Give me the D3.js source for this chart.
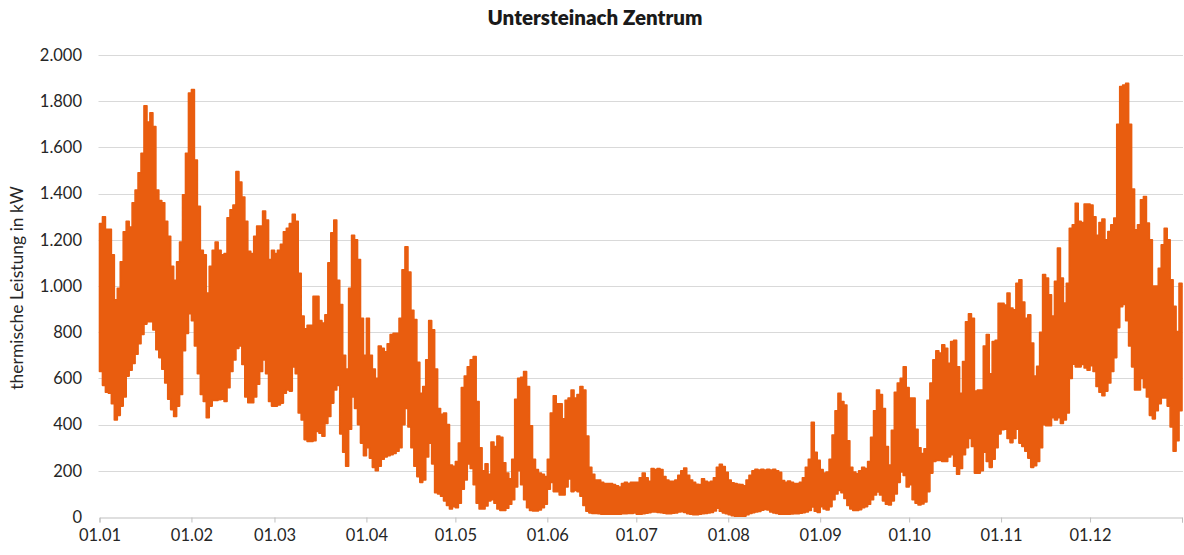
<!DOCTYPE html>
<html>
<head>
<meta charset="utf-8">
<script src="https://cdn.jsdelivr.net/npm/d3@7"></script>
<style>
  body { margin: 0; background: #ffffff; }
  svg { display: block; font-family: Lato, "Open Sans", sans-serif; }
</style>
</head>
<body>
<svg id="chart" width="1184" height="555"></svg>
<script>
// Hourly heat load, summarised as the daily minimum and maximum (kW) per calendar day.
const chartTitle = "Untersteinach Zentrum";
const yAxisTitle = "thermische Leistung in kW";
const monthLabels = ["01.01","01.02","01.03","01.04","01.05","01.06","01.07","01.08","01.09","01.10","01.11","01.12"];
const monthLengths = [31,28,31,30,31,30,31,31,30,31,30,31];
const yTickValues = [0,200,400,600,800,1000,1200,1400,1600,1800,2000];

const dailyMaxKW = [
  // Jan
  1270,1300,1245,1245,1135,940,990,1105,1235,1280,1255,1360,1415,1490,1575,1780,1710,1750,1690,1415,1370,1360,1280,1215,1085,1025,1105,1190,1395,1575,1835,
  // Feb
  1850,1545,1345,1155,1135,970,1085,1155,1190,1155,1135,1140,1295,1330,1350,1495,1450,1385,1280,1150,1140,1215,1260,1260,1325,1285,1115,1155,
  // Mar
  1140,1155,1180,1235,1250,1270,1310,1280,1055,870,815,830,830,955,955,850,840,875,1100,1230,1285,1025,920,700,640,990,1220,1200,1115,860,700,
  // Apr
  860,700,640,600,740,730,715,750,790,795,795,860,1070,1170,1060,895,855,670,535,565,680,850,810,640,470,445,450,400,225,220,
  // May
  240,320,560,610,650,680,695,500,300,200,230,185,325,305,350,345,235,190,165,250,510,600,605,630,565,395,250,205,190,185,175,
  // Jun
  250,450,525,490,490,425,505,515,550,515,530,565,550,350,215,185,160,160,150,145,145,145,140,135,130,145,150,145,150,150,
  // Jul
  150,170,190,170,155,210,205,210,205,175,160,155,155,160,180,200,212,180,160,150,142,140,165,155,150,155,170,215,228,218,193,
  // Aug
  160,148,145,142,140,135,160,180,200,207,203,207,203,207,203,207,200,193,158,150,156,150,145,145,150,170,215,250,410,280,245,
  // Sep
  205,190,195,250,355,460,535,500,485,330,215,195,188,200,215,210,240,345,460,550,530,470,305,225,375,540,580,600,650,560,
  // Oct
  515,515,380,300,275,295,505,580,680,720,710,745,730,665,760,765,650,535,673,845,880,860,545,550,550,740,790,620,760,765,925,
  // Nov
  925,918,970,905,897,1012,1027,930,860,875,753,610,652,800,1050,1034,962,870,1020,1164,1034,926,1012,1250,1265,1358,1280,1275,1355,1355,
  // Dec
  1350,1300,1220,1275,1290,1200,1236,1265,1294,1700,1863,1870,1877,1700,1420,1243,1265,1373,1387,1272,1200,1000,1000,1077,1178,1250,1200,1027,912,803,1012
];

const dailyMinKW = [
  // Jan
  630,570,540,536,490,420,440,480,520,610,635,665,705,750,790,835,845,845,810,724,690,640,580,510,465,435,480,530,720,795,880,
  // Feb
  850,740,620,530,500,430,480,505,505,508,510,500,560,630,680,730,740,660,520,495,495,520,575,630,680,620,500,480,
  // Mar
  480,485,493,536,550,545,650,620,450,420,335,327,327,330,370,363,350,405,435,493,550,570,360,280,220,380,520,470,400,320,265,
  // Apr
  300,255,215,200,220,250,260,265,270,275,285,300,400,470,390,300,220,175,150,160,260,320,230,105,100,90,70,50,35,45,
  // May
  40,60,120,160,230,210,140,60,35,35,48,70,75,60,35,28,28,38,55,75,130,200,140,75,40,28,26,26,30,40,55,
  // Jun
  120,150,110,110,95,95,130,165,110,115,110,90,50,25,18,15,15,14,12,12,12,12,12,12,12,14,14,15,15,18,
  // Jul
  12,12,14,16,19,22,22,20,19,16,14,14,16,18,22,23,20,14,12,10,10,12,14,15,18,20,26,38,25,18,14,
  // Aug
  10,6,4,4,4,4,10,15,19,22,24,29,33,30,22,18,15,12,12,12,12,13,14,14,16,19,22,28,43,25,20,
  // Sep
  45,35,30,45,75,100,115,105,80,50,35,28,28,32,40,45,55,75,95,108,95,70,55,52,70,100,150,195,180,130,
  // Oct
  140,75,60,52,56,65,110,190,240,245,245,240,240,260,270,220,185,210,270,300,340,305,190,190,200,280,240,215,250,300,360,
  // Nov
  378,380,340,322,340,380,320,305,285,255,215,222,240,300,400,395,395,430,420,430,405,420,450,600,662,650,650,660,645,635,
  // Dec
  655,630,565,540,525,545,580,630,690,820,910,920,850,740,650,550,550,600,560,520,440,425,460,490,515,515,480,390,285,330,460
];

const svg = d3.select("#chart");
const plot = { left: 99.5, right: 1182, top: 55, bottom: 517 };
const lineColor = "#E95D0F";
const textColor = "#262626";

const totalDays = d3.sum(monthLengths);
const monthStarts = d3.cumsum([0, ...monthLengths.slice(0, -1)]);

const x = d3.scaleLinear().domain([0, totalDays]).range([plot.left, plot.right]);
const y = d3.scaleLinear().domain([0, 2000]).range([plot.bottom, plot.top]);

const de = d3.formatLocale({ decimal: ",", thousands: ".", grouping: [3], currency: ["", " €"] });
const fmt = de.format(",");

// horizontal gridlines
svg.append("g")
  .selectAll("line")
  .data(yTickValues.filter(v => v > 0))
  .join("line")
  .attr("x1", plot.left - 1)
  .attr("x2", plot.right + 1)
  .attr("y1", d => Math.round(y(d)) + 0.5)
  .attr("y2", d => Math.round(y(d)) + 0.5)
  .attr("stroke", "#d9d9d9")
  .attr("stroke-width", 1);

// y tick labels
svg.append("g")
  .selectAll("text")
  .data(yTickValues)
  .join("text")
  .attr("x", 82)
  .attr("y", d => y(d))
  .attr("dy", "0.35em")
  .attr("text-anchor", "end")
  .attr("font-size", 16.5)
  .attr("fill", textColor)
  .text(d => fmt(d));

// daily load band
const days = dailyMaxKW.map((hi, i) => ({ i, hi, lo: dailyMinKW[i] }));
days.push({ i: totalDays, hi: dailyMaxKW[totalDays - 1], lo: dailyMinKW[totalDays - 1] });

const band = d3.area()
  .x(d => x(d.i))
  .y0(d => y(d.lo))
  .y1(d => y(d.hi))
  .curve(d3.curveStepAfter);

svg.append("path")
  .datum(days)
  .attr("d", band)
  .attr("fill", lineColor)
  .attr("stroke", lineColor)
  .attr("stroke-width", 1.6)
  .attr("stroke-linejoin", "round");

// x axis
const xAxis = d3.axisBottom(x)
  .tickValues([...monthStarts, totalDays])
  .tickFormat((d, i) => monthLabels[i] || "")
  .tickSizeOuter(0)
  .tickSize(5)
  .tickPadding(7);

const gx = svg.append("g")
  .attr("transform", `translate(0,${plot.bottom + 0.5})`)
  .call(xAxis);
gx.select(".domain").attr("stroke", "#bfbfbf").attr("stroke-width", 1);
gx.selectAll(".tick line").attr("stroke", "#bfbfbf");
gx.selectAll(".tick text")
  .attr("font-size", 16.5)
  .attr("font-family", "Lato, 'Open Sans', sans-serif")
  .attr("fill", textColor);

// titles
svg.append("text")
  .attr("x", 595)
  .attr("y", 25)
  .attr("text-anchor", "middle")
  .attr("font-size", 20.5)
  .attr("font-weight", 800)
  .attr("fill", "#1a1a1a")
  .text(chartTitle);

svg.append("text")
  .attr("transform", `translate(23,${(plot.top + plot.bottom) / 2 + 2}) rotate(-90)`)
  .attr("text-anchor", "middle")
  .attr("font-size", 17.5)
  .attr("fill", textColor)
  .text(yAxisTitle);
</script>
</body>
</html>
